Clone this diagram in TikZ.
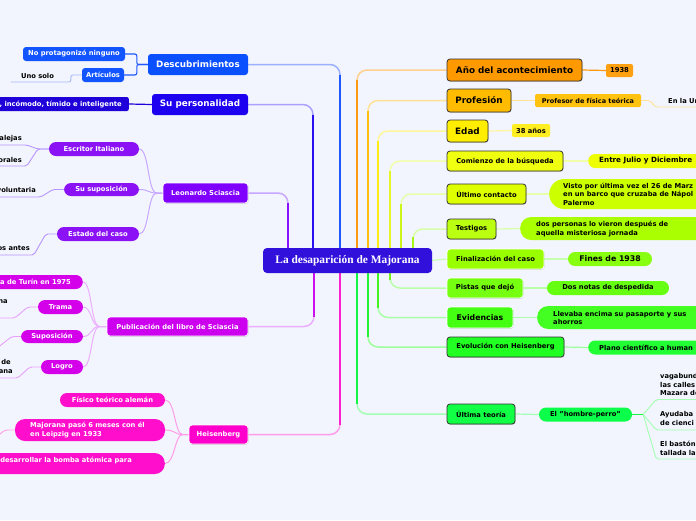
\documentclass[tikz,border=0pt]{standalone}
\usepackage{fontspec}
\setmainfont{DejaVu Sans}
\newfontfamily\ttlfont{Liberation Serif}
\usetikzlibrary{shadows,calc}
\newcommand\fsS{\bfseries\fontsize{6.75}{8.6}\selectfont}
\newcommand\fsM{\bfseries\fontsize{7.8}{9.5}\selectfont}
\newcommand\fsL{\bfseries\fontsize{8.8}{10}\selectfont}
\definecolor{bgc}{HTML}{F2F5FD}
\definecolor{cCtr}{HTML}{3210DC}
\definecolor{cDesc}{HTML}{0B50FF}\definecolor{cDescC}{HTML}{1254FF}\definecolor{cDescD}{HTML}{2058FF}\definecolor{cDescL}{HTML}{9DB0FF}\definecolor{cDescU}{HTML}{A8B8F5}
\definecolor{cPers}{HTML}{1E00F0}\definecolor{cPersC}{HTML}{2000D8}\definecolor{cPersD}{HTML}{2A10F0}\definecolor{cPersL}{HTML}{ABA2FF}
\definecolor{cLeo}{HTML}{7F00FF}\definecolor{cLeoC}{HTML}{8B12F5}\definecolor{cLeoD}{HTML}{8A10FF}\definecolor{cLeoL}{HTML}{C7A6FF}\definecolor{cLeoU}{HTML}{B894FF}
\definecolor{cPub}{HTML}{CC00EE}\definecolor{cPubC}{HTML}{D400EA}\definecolor{cPubD}{HTML}{CC10EE}\definecolor{cPubL}{HTML}{ECAEFF}\definecolor{cPubU}{HTML}{E8A0FA}
\definecolor{cHeis}{HTML}{FF00CC}\definecolor{cHeisC}{HTML}{FF0FCC}\definecolor{cHeisD}{HTML}{FF20D0}\definecolor{cHeisL}{HTML}{FF9CEA}
\definecolor{cAno}{HTML}{FF9900}\definecolor{cAnoC}{HTML}{FFA010}\definecolor{cAnoD}{HTML}{FF9A10}\definecolor{cAnoL}{HTML}{FFD08E}
\definecolor{cProf}{HTML}{FFBB00}\definecolor{cProfC}{HTML}{FFC20E}\definecolor{cProfD}{HTML}{FFBE10}\definecolor{cProfL}{HTML}{FFE295}
\definecolor{cEdad}{HTML}{FFEE00}\definecolor{cEdadC}{HTML}{FFEE22}\definecolor{cEdadD}{HTML}{FFEE10}\definecolor{cEdadL}{HTML}{FFF59A}
\definecolor{cCom}{HTML}{F0FF10}\definecolor{cComC}{HTML}{EEFF00}\definecolor{cComD}{HTML}{E4F52A}\definecolor{cComL}{HTML}{F2FFAA}
\definecolor{cUlt}{HTML}{DDFF00}\definecolor{cUltC}{HTML}{CCFF00}\definecolor{cUltD}{HTML}{CCF51A}\definecolor{cUltL}{HTML}{E6FFAA}
\definecolor{cTes}{HTML}{BBFF11}\definecolor{cTesC}{HTML}{AAFF00}\definecolor{cTesD}{HTML}{A8F51A}\definecolor{cTesL}{HTML}{D8FFA8}
\definecolor{cFin}{HTML}{99FF00}\definecolor{cFinC}{HTML}{88FF11}\definecolor{cFinL}{HTML}{C6FFB0}
\definecolor{cPis}{HTML}{77FF11}\definecolor{cPisC}{HTML}{66FF11}\definecolor{cPisD}{HTML}{77EE22}\definecolor{cPisL}{HTML}{B8FFA8}
\definecolor{cEvi}{HTML}{44FF11}\definecolor{cEviC}{HTML}{44FF22}\definecolor{cEviD}{HTML}{44F522}\definecolor{cEviL}{HTML}{A8FFA8}
\definecolor{cEvo}{HTML}{22FF22}\definecolor{cEvoC}{HTML}{22FF33}\definecolor{cEvoD}{HTML}{22F533}\definecolor{cEvoL}{HTML}{9CFF9C}
\definecolor{cUtt}{HTML}{11FF44}\definecolor{cUttC}{HTML}{0BFF4A}\definecolor{cUttD}{HTML}{11F544}\definecolor{cUttL}{HTML}{A2FFB4}
\pgfdeclarelayer{bglayer}\pgfdeclarelayer{lines}
\pgfsetlayers{bglayer,lines,main}
\tikzset{
 nd/.style={inner sep=0pt, align=center, font=\fsS},
 wbox/.style={nd, text=white, rounded corners=3pt},
 bbox/.style={nd, text=black, rounded corners=3pt},
 dk/.style={draw=black!80, line width=0.8pt, drop shadow={shadow xshift=0.6pt, shadow yshift=-0.8pt, opacity=0.35}},
 wt/.style={draw=white, line width=0.8pt, drop shadow={shadow xshift=0.6pt, shadow yshift=-0.8pt, opacity=0.3}},
 pill/.style={nd, rounded corners=7pt},
 sz/.style 2 args={minimum width=#1pt, minimum height=#2pt},
 tx/.style={inner sep=0pt, font=\fsS, text=black},
 wtx/.style={inner sep=0pt, font=\fsS, text=white, align=left},
 tl/.style={line width=1.5pt, rounded corners=10pt},
 td/.style={line width=2pt},
 br/.style={line width=1.2pt},
 tw/.style={line width=0.9pt, rounded corners=2pt},
}
\begin{document}
\begin{tikzpicture}[x=1pt,y=-1pt]
\useasboundingbox (0,0) rectangle (696,520);
\clip (0,0) rectangle (696,520);
\begin{pgfonlayer}{bglayer}
\fill[bgc] (0,0) rectangle (696,520);
\end{pgfonlayer}

% trunk x positions
\coordinate (x288) at (288,0);
\coordinate (x313) at (313,0);
\coordinate (x314) at (314,0);
\coordinate (x340) at (340,0);
\coordinate (x357) at (357,0);
\coordinate (x368) at (368,0);
\coordinate (x378) at (378,0);
\coordinate (x390) at (390,0);
\coordinate (x401) at (401,0);
\coordinate (x413) at (413,0);

% centre
\node[wbox, fill=cCtr, sz={169}{25}, font=\ttlfont\bfseries\fontsize{11.4}{13}\selectfont, rounded corners=4pt] (ctr) at (347.5,260.5) {La desaparición de Majorana};

% ---------- left ----------
\node[wbox, fill=cDesc, sz={100}{21}, font=\fsL] (desc) at (198,64.5) {Descubrimientos};
\node[wbox, fill=cDescC, sz={102}{14}] (noprot) at (74,54) {No protagonizó ninguno};
\node[wbox, fill=cDescC, sz={42}{14}] (artic) at (103,75) {Artículos};
\node[tx] (uno) at (37.5,75.5) {Uno solo};

\node[wbox, fill=cPers, sz={96}{21}, font=\fsL] (pers) at (200,104.5) {Su personalidad};
\node[fill=cPersC, rounded corners=2pt, sz={160}{14}, anchor=east, inner sep=0pt] (persc) at (129,104) {};
\node[wtx, anchor=west] (persct) at (-0.5,104.5) {, incómodo, tímido e inteligente};

\node[wbox, wt, fill=cLeo, sz={85}{20}] (leo) at (205.5,193) {Leonardo Sciascia};
\node[pill, fill=cLeoC, text=white, sz={90}{14}] (escr) at (94,149) {Escritor Italiano};
\node[pill, fill=cLeoC, text=white, sz={75}{13}] (supo) at (101.5,189.5) {Su suposición};
\node[pill, fill=cLeoC, text=white, sz={82}{14}] (estado) at (98,234) {Estado del caso};
\node[tx, anchor=east] (t1) at (22,139) {alejas};
\node[tx, anchor=east] (t2) at (22,159.5) {orales};
\node[tx, anchor=east] (t3) at (36,190) {voluntaria};
\node[tx, anchor=east] (t4) at (30,248) {os antes};

\node[wbox, wt, fill=cPub, sz={141}{19}] (pub) at (177.5,326.5) {Publicación del libro de Sciascia};
\node[pill, fill=cPubC, sz={110}{14}, anchor=east] (turin) at (83,282) {};
\node[wtx, anchor=west] (turint) at (0,282) {a de Turín en 1975};
\node[pill, fill=cPubC, text=white, sz={45}{14}] (trama) at (60.5,307) {Trama};
\node[pill, fill=cPubC, text=white, sz={62}{13}] (supo2) at (52,336.5) {Suposición};
\node[pill, fill=cPubC, text=white, sz={42}{14}] (logro) at (62,367) {Logro};
\node[tx, anchor=east] (t5) at (8,301.5) {na};
\node[tx, anchor=east] (t6) at (11,362) {de};
\node[tx, anchor=east] (t7) at (13,372) {ana};

\node[wbox, wt, fill=cHeis, sz={59}{19}] (heis) at (218.5,434.5) {Heisenberg};
\node[pill, fill=cHeisC, text=white, sz={105}{14}] (fis) at (112.5,400) {Físico teórico alemán};
\node[pill, fill=cHeisC, sz={150}{22}, rounded corners=10pt] (majo) at (90,430) {};
\node[wtx, anchor=west] (majot) at (30,430) {Majorana pasó 6 meses con él\\en Leipzig en 1933};
\node[pill, fill=cHeisC, sz={200}{21}, anchor=east, rounded corners=10pt] (bomba) at (165,463.5) {};
\node[wtx, anchor=east] (bombat) at (132,460) {desarrollar la bomba atómica para};

% ---------- right ----------
\node[bbox, dk, fill=cAno, sz={135}{22}, font=\fsL] (ano) at (514.5,70) {Año del acontecimiento};
\node[bbox, fill=cAnoC, sz={27}{13}, rounded corners=2pt] (anoc) at (619.5,70.5) {1938};
\node[bbox, dk, fill=cProf, sz={64}{23}, font=\fsL] (prof) at (479,100.5) {Profesión};
\node[bbox, fill=cProfC, sz={106}{13}, rounded corners=2pt, font=\bfseries\fontsize{6.5}{8}\selectfont] (profc) at (588,100.5) {Profesor de física teórica};
\node[tx, anchor=west] (t8) at (668,101) {En la Un};
\node[bbox, dk, fill=cEdad, sz={41}{22}, font=\fsL] (edad) at (467.5,131) {Edad};
\node[bbox, fill=cEdadC, sz={38}{13}, rounded corners=2pt] (edadc) at (531,130.5) {38 años};
\node[bbox, dk, fill=cCom, sz={116}{20}] (com) at (505,161) {Comienzo de la búsqueda};
\node[pill, fill=cComC, sz={140}{14}, anchor=west] (comc) at (588,161) {};
\node[tx, anchor=west, font=\bfseries\fontsize{7.2}{9}\selectfont] (comct) at (599,161) {Entre Julio y Diciembre};
\node[bbox, dk, fill=cUlt, sz={79}{20}] (ult) at (486.5,194) {Último contacto};
\node[pill, fill=cUltC, sz={180}{30}, anchor=west, rounded corners=15pt] (ultc) at (549,194) {};
\node[tx, anchor=west, align=left] (ultct) at (563,194) {Visto por última vez el 26 de Marz\\en un barco que cruzaba de Nápol\\Palermo};
\node[bbox, dk, fill=cTes, sz={49}{20}] (tes) at (471.5,229) {Testigos};
\node[pill, fill=cTesC, sz={200}{23}, anchor=west, rounded corners=11pt] (tesc) at (520,228.5) {};
\node[tx, anchor=west, align=left] (tesct) at (536,229) {dos personas lo vieron después de\\aquella misteriosa jornada};
\node[bbox, wt, fill=cFin, sz={97}{20}] (fin) at (495.5,259) {Finalización del caso};
\node[pill, fill=cFinC, sz={84}{14}, font=\fsM] (finc) at (610,259) {Fines de 1938};
\node[bbox, wt, fill=cPis, sz={76}{20}] (pis) at (485,288) {Pistas que dejó};
\node[pill, fill=cPisC, sz={122}{14}] (pisc) at (608,288) {Dos notas de despedida};
\node[bbox, wt, fill=cEvi, sz={66}{21}, font=\fsM] (evi) at (480,317.5) {Evidencias};
\node[pill, fill=cEviC, sz={200}{23}, anchor=west, rounded corners=11pt] (evic) at (537,317.5) {};
\node[tx, anchor=west, align=left] (evict) at (553,318) {Llevaba encima su pasaporte y sus\\ahorros};
\node[bbox, dk, fill=cEvo, sz={117}{20}] (evo) at (505.5,347) {Evolución con Heisenberg};
\node[pill, fill=cEvoC, sz={140}{14}, anchor=west] (evoc) at (588,347.5) {};
\node[tx, anchor=west] (evoct) at (599,347.5) {Plano científico a human};
\node[bbox, dk, fill=cUtt, sz={68}{20}] (utt) at (481,414) {Última teoría};
\node[pill, fill=cUttC, sz={93}{14}] (hom) at (585.5,414.5) {El "hombre-perro"};
\node[tx, anchor=west, align=left] (h1) at (660,384.5) {vagabund\\las calles\\Mazara de};
\node[tx, anchor=west, align=left] (h2) at (660,418.5) {Ayudaba\\de cienci};
\node[tx, anchor=west, align=left] (h3) at (660,448.5) {El bastón\\tallada la};

% ---------- connectors ----------
\begin{pgfonlayer}{lines}
% left trunks (upwards)
\draw[tl, cDescL] (ctr.north -| x340) |- (desc.east);
\draw[td, cDescD] (ctr.north -| x340) -- ($(desc.east -| x340)+(0,10)$);
\draw[tl, cPersL] (ctr.north -| x313) |- (pers.east);
\draw[td, cPersD] (ctr.north -| x313) -- ($(pers.east -| x313)+(0,10)$);
\draw[tl, cLeoL] (ctr.north -| x288) |- (leo.east);
\draw[td, cLeoD] (ctr.north -| x288) -- ($(leo.east -| x288)+(0,10)$);
% left trunks (downwards)
\draw[tl, cPubL] (ctr.south -| x314) |- (pub.east);
\draw[td, cPubD] (ctr.south -| x314) -- ($(pub.east -| x314)+(0,-10)$);
\draw[tl, cHeisL] (ctr.south -| x340) |- (heis.east);
\draw[td, cHeisD] (ctr.south -| x340) -- ($(heis.east -| x340)+(0,-10)$);
% right trunks (upwards)
\draw[tl, cAnoL] (ctr.north -| x357) |- (ano.west);
\draw[td, cAnoD] (ctr.north -| x357) -- ($(ano.west -| x357)+(0,10)$);
\draw[tl, cProfL] (ctr.north -| x368) |- (prof.west);
\draw[td, cProfD] (ctr.north -| x368) -- ($(prof.west -| x368)+(0,10)$);
\draw[tl, cEdadL] (ctr.north -| x378) |- (edad.west);
\draw[td, cEdadD] (ctr.north -| x378) -- ($(edad.west -| x378)+(0,10)$);
\draw[tl, cComL] (ctr.north -| x390) |- (com.west);
\draw[td, cComD] (ctr.north -| x390) -- ($(com.west -| x390)+(0,10)$);
\draw[tl, cUltL] (ctr.north -| x401) |- (ult.west);
\draw[td, cUltD] (ctr.north -| x401) -- ($(ult.west -| x401)+(0,10)$);
\draw[tl, cTesL] (ctr.north -| x413) |- (tes.west);
\draw[td, cTesD] (ctr.north -| x413) -- ($(tes.west -| x413)+(0,8)$);
\draw[br, cFinL] (ctr.east) -- (fin.west);
% right trunks (downwards)
\draw[tl, cPisL] (ctr.south -| x390) |- (pis.west);
\draw[td, cPisD] (ctr.south -| x390) -- ($(pis.west -| x390)+(0,-8)$);
\draw[tl, cEviL] (ctr.south -| x378) |- (evi.west);
\draw[td, cEviD] (ctr.south -| x378) -- ($(evi.west -| x378)+(0,-10)$);
\draw[tl, cEvoL] (ctr.south -| x368) |- (evo.west);
\draw[td, cEvoD] (ctr.south -| x368) -- ($(evo.west -| x368)+(0,-10)$);
\draw[tl, cUttL] (ctr.south -| x357) |- (utt.west);
\draw[td, cUttD] (ctr.south -| x357) -- ($(utt.west -| x357)+(0,-10)$);

% left children
\draw[tw, cDescD, line width=1.1pt] (desc.west) -- ++(-11,0) |- (noprot.east);
\draw[tw, cDescD, line width=1.1pt] (desc.west) -- ++(-11,0) |- (artic.east);
\draw[tw, cDescU] (artic.west) -- ++(-11,0) -- ++(0,7) -- ++(-60,0);
\draw[br, cPersC] (pers.west) -- (persc.east);
\foreach \n in {escr,supo,estado}
  \draw[cLeoL, line width=1pt] (leo.west) -- ++(-6,0) .. controls +(-9,0) and +(10,0) .. (\n.east);
\draw[tw, cLeoU] (escr.west) -- ++(-11,0) -- ++(-11,-4) -- ++(-30,0);
\draw[tw, cLeoU] (escr.west) -- ++(-11,0) -- ++(-11,17) -- ++(-30,0);
\draw[tw, cLeoU] (supo.west) -- ++(-11,0) -- ++(-12,7.5) -- ++(-50,0);
\draw[tw, cLeoU] (estado.west) -- ++(-11,0) -- ++(-12,21) -- ++(-40,0);
\foreach \n in {turin,trama,supo2,logro}
  \draw[cPubL, line width=1pt] (pub.west) -- ++(-7,0) .. controls +(-9,0) and +(9,0) .. (\n.east);
\draw[tw, cPubU] (trama.west) -- ++(-10,0) -- ++(-13,11) -- ++(-20,0);
\draw[tw, cPubU] (supo2.west) -- ++(-9,0) -- ++(-14,11);
\draw[tw, cPubU] (logro.west) -- ++(-11,0) -- ++(-12,11) -- ++(-20,0);
\foreach \n in {fis,majo,bomba}
  \draw[cHeisL, line width=1pt] (heis.west) -- ++(-6,0) .. controls +(-8,0) and +(10,0) .. (\n.east);
\draw[tw, cHeisL] (majo.west) -- ++(-10,0) -- ++(-6,5);

% right children
\draw[br, cAnoD] (ano.east) -- (anoc.west);
\draw[br, cProfL] (prof.east) -- (profc.west);
\draw[tw, cProfL] (profc.east) -- ++(9,0) -- ++(5,6.5) -- ++(60,0);
\draw[br, cEdadL] (edad.east) -- (edadc.west);
\draw[br, cComL] (com.east) -- (comc.west);
\draw[br, cUltL] (ult.east) -- (ultc.west);
\draw[br, cTesL] (tes.east) -- (tesc.west);
\draw[br, cFinL] (fin.east) -- (finc.west);
\draw[br, cPisL] (pis.east) -- (pisc.west);
\draw[br, cEviL] (evi.east) -- (evic.west);
\draw[br, cEvoL] (evo.east) -- (evoc.west);
\draw[br, cUttL] (utt.east) -- (hom.west);
\draw[tw, cUttD] (hom.east) -- ++(11,0);
\draw[tw, cUttL] (hom.east) ++(11,0) -- ++(13,-15) -- ++(60,0);
\draw[tw, cUttL] (hom.east) ++(11,0) -- ++(13,15.5) -- ++(60,0);
\draw[tw, cUttL] (hom.east) ++(11,0) -- ++(13,44.5) -- ++(60,0);
\end{pgfonlayer}
\end{tikzpicture}
\end{document}
